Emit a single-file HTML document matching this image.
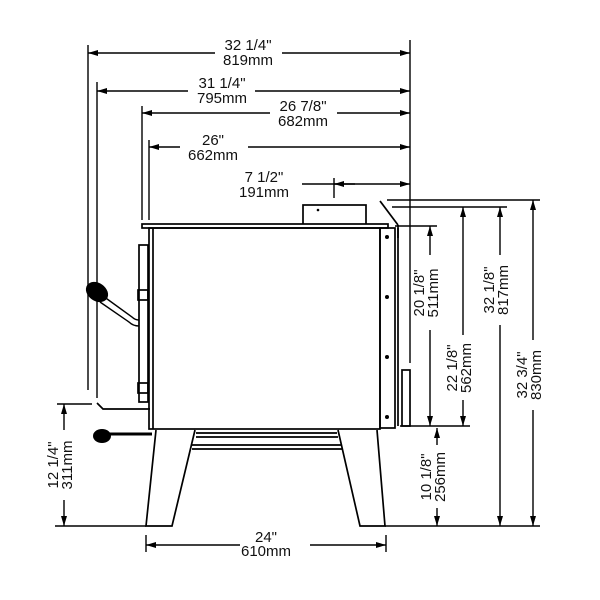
<!DOCTYPE html>
<html><head><meta charset="utf-8"><style>
html,body{margin:0;padding:0;background:#fff}
svg{display:block}
text{font-family:"Liberation Sans",sans-serif;font-size:15px;fill:#111}
</style></head><body>
<svg width="600" height="600" viewBox="0 0 600 600" xmlns="http://www.w3.org/2000/svg">
<defs>
<marker id="a" viewBox="0 0 10 6" refX="10" refY="3" markerWidth="10" markerHeight="6" orient="auto-start-reverse" markerUnits="userSpaceOnUse"><path d="M0,0 L10,3 L0,6 z" fill="#000"/></marker>
</defs>
<g stroke="#000" stroke-width="1.4" fill="none">
<line x1="88" y1="45" x2="88" y2="390"/>
<line x1="97" y1="82" x2="97" y2="398"/>
<line x1="142" y1="106" x2="142" y2="220"/>
<line x1="149" y1="140" x2="149" y2="220"/>
<line x1="410" y1="40" x2="410" y2="363"/>
<line x1="334" y1="178" x2="334" y2="198"/>
<line x1="88" y1="53" x2="215" y2="53" marker-start="url(#a)"/>
<line x1="282" y1="53" x2="410" y2="53" marker-end="url(#a)"/>
<line x1="97" y1="91" x2="188" y2="91" marker-start="url(#a)"/>
<line x1="255" y1="91" x2="410" y2="91" marker-end="url(#a)"/>
<line x1="142" y1="113" x2="270" y2="113" marker-start="url(#a)"/>
<line x1="337" y1="113" x2="410" y2="113" marker-end="url(#a)"/>
<line x1="149" y1="147" x2="180" y2="147" marker-start="url(#a)"/>
<line x1="248" y1="147" x2="410" y2="147" marker-end="url(#a)"/>
<line x1="302" y1="184" x2="410" y2="184" marker-end="url(#a)"/>
<line x1="334" y1="184" x2="355" y2="184" marker-start="url(#a)"/>
<line x1="387" y1="200" x2="540" y2="200"/>
<line x1="392" y1="207" x2="507" y2="207"/>
<line x1="395" y1="226" x2="437" y2="226"/>
<line x1="400" y1="426" x2="470" y2="426"/>
<line x1="385" y1="526" x2="540" y2="526"/>
<line x1="57" y1="404" x2="92" y2="404"/>
<line x1="55" y1="526" x2="146" y2="526"/>
<line x1="430" y1="226" x2="430" y2="255" marker-start="url(#a)"/>
<line x1="430" y1="330" x2="430" y2="426" marker-end="url(#a)"/>
<line x1="463" y1="207" x2="463" y2="335" marker-start="url(#a)"/>
<line x1="463" y1="400" x2="463" y2="426" marker-end="url(#a)"/>
<line x1="500" y1="207" x2="500" y2="255" marker-start="url(#a)"/>
<line x1="500" y1="325" x2="500" y2="526" marker-end="url(#a)"/>
<line x1="533" y1="200" x2="533" y2="340" marker-start="url(#a)"/>
<line x1="533" y1="410" x2="533" y2="526" marker-end="url(#a)"/>
<line x1="437" y1="428" x2="437" y2="445" marker-start="url(#a)"/>
<line x1="437" y1="508" x2="437" y2="526" marker-end="url(#a)"/>
<line x1="64" y1="404" x2="64" y2="430" marker-start="url(#a)"/>
<line x1="64" y1="500" x2="64" y2="526" marker-end="url(#a)"/>
<line x1="146" y1="535" x2="146" y2="552"/>
<line x1="386" y1="535" x2="386" y2="552"/>
<line x1="146" y1="545" x2="240" y2="545" marker-start="url(#a)"/>
<line x1="310" y1="545" x2="386" y2="545" marker-end="url(#a)"/>
</g>
<g stroke="#000" stroke-width="1.7" fill="none">
<rect x="303" y="205" width="63" height="20" fill="#fff"/>
<rect x="142" y="224" width="246" height="4" fill="#fff"/>
<rect x="149" y="228" width="231" height="201"/>
<line x1="153" y1="228" x2="153" y2="429"/>
<rect x="380" y="228" width="15" height="200"/>
<line x1="398" y1="228" x2="398" y2="426"/>
<rect x="402" y="370" width="8" height="56"/>
<line x1="380" y1="201" x2="398" y2="225"/>
<line x1="398" y1="225" x2="398" y2="238"/>
<rect x="139" y="245" width="9" height="157"/>
<rect x="138" y="290" width="10" height="10"/>
<rect x="138" y="383" width="10" height="10"/>
<path d="M156,430 L146,526 L172,526 L195,430"/>
<path d="M338,430 L360,526 L385,526 L377,430"/>
<line x1="196" y1="433" x2="337" y2="433"/>
<line x1="196" y1="437" x2="338" y2="437"/>
<line x1="192" y1="445" x2="341" y2="445"/>
<line x1="192" y1="449" x2="342" y2="449"/>
<path d="M103,296 L132,317 Q135,320 139,320 M100,302 L129,322 Q133,326 139,326" stroke-width="1.4"/>
<path d="M97,403 L103,409 L150,409"/>
<line x1="108" y1="434" x2="152" y2="434" stroke-width="3"/>
</g>
<g fill="#000">
<ellipse cx="97" cy="292" rx="12" ry="9" transform="rotate(35 97 292)"/>
<ellipse cx="102" cy="436" rx="9" ry="7"/>
<circle cx="387" cy="237" r="2"/><circle cx="387" cy="297" r="2"/><circle cx="387" cy="357" r="2"/><circle cx="387" cy="417" r="2"/>
<circle cx="318" cy="210" r="1.3"/>
</g>
<g text-anchor="middle">
<text x="248" y="50">32 1/4"</text><text x="248" y="65">819mm</text>
<text x="222" y="88">31 1/4"</text><text x="222" y="103">795mm</text>
<text x="303" y="111">26 7/8"</text><text x="303" y="126">682mm</text>
<text x="213" y="145">26"</text><text x="213" y="160">662mm</text>
<text x="264" y="182">7 1/2"</text><text x="264" y="197">191mm</text>
<text x="266" y="542">24"</text><text x="266" y="556">610mm</text>
<text transform="translate(424,293) rotate(-90)">20 1/8"</text><text transform="translate(438,293) rotate(-90)">511mm</text>
<text transform="translate(457,368) rotate(-90)">22 1/8"</text><text transform="translate(471,368) rotate(-90)">562mm</text>
<text transform="translate(494,290) rotate(-90)">32 1/8"</text><text transform="translate(508,290) rotate(-90)">817mm</text>
<text transform="translate(527,375) rotate(-90)">32 3/4"</text><text transform="translate(541,375) rotate(-90)">830mm</text>
<text transform="translate(431,477) rotate(-90)">10 1/8"</text><text transform="translate(445,477) rotate(-90)">256mm</text>
<text transform="translate(58,465) rotate(-90)">12 1/4"</text><text transform="translate(72,465) rotate(-90)">311mm</text>
</g>
</svg>
</body></html>
